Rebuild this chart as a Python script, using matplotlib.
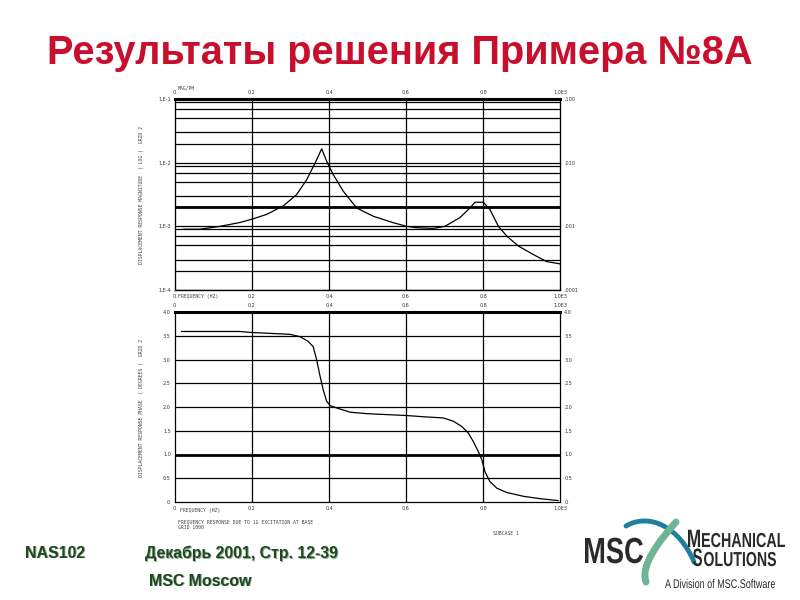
import numpy as np
import matplotlib.pyplot as plt
from matplotlib.font_manager import FontProperties
from matplotlib.patches import PathPatch
from matplotlib.path import Path
from matplotlib.textpath import TextPath
from matplotlib.transforms import Affine2D

# frequency response (x in units of 1.0E+3 Hz)
freq_mag = [0.022, 0.063, 0.091, 0.117, 0.169, 0.199, 0.238, 0.281, 0.316, 0.342,
            0.364, 0.381, 0.394, 0.411, 0.437, 0.472, 0.515, 0.567, 0.602, 0.628,
            0.671, 0.701, 0.740, 0.766, 0.779, 0.801, 0.818, 0.840, 0.862, 0.892,
            0.931, 0.965, 1.0]
magnitude = [9.0e-4, 9.0e-4, 9.5e-4, 1.0e-3, 1.15e-3, 1.29e-3, 1.54e-3, 2.09e-3, 3.16e-3, 5.4e-3,
             9.9e-3, 1.65e-2, 1.05e-2, 6.5e-3, 3.56e-3, 1.94e-3, 1.44e-3, 1.14e-3, 1.0e-3, 9.5e-4,
             9.3e-4, 1.0e-3, 1.37e-3, 1.94e-3, 2.39e-3, 2.39e-3, 1.84e-3, 1.0e-3, 7.0e-4, 4.9e-4,
             3.6e-4, 2.8e-4, 2.57e-4]

freq_ph = [0.017, 0.169, 0.195, 0.247, 0.299, 0.325, 0.346, 0.359, 0.368, 0.377,
           0.385, 0.394, 0.403, 0.420, 0.455, 0.498, 0.550, 0.602, 0.654, 0.697,
           0.723, 0.745, 0.762, 0.775, 0.788, 0.797, 0.805, 0.818, 0.836, 0.862,
           0.905, 0.948, 0.995]
phase = [3.59, 3.59, 3.57, 3.55, 3.53, 3.48, 3.38, 3.27, 2.99, 2.64,
         2.36, 2.12, 2.03, 1.98, 1.89, 1.86, 1.84, 1.82, 1.79, 1.77,
         1.70, 1.59, 1.45, 1.27, 1.06, 0.89, 0.64, 0.43, 0.29, 0.20,
         0.12, 0.07, 0.03]

x_ticks = [0.0, 0.2, 0.4, 0.6, 0.8, 1.0]
x_labels = ['0.', '0.2', '0.4', '0.6', '0.8', '1.0E3']
mag_decades = [1e-4, 1e-3, 1e-2, 1e-1]
mag_left = ['1.E-4', '1.E-3', '1.E-2', '1.E-1']
mag_right = ['.0001', '.001', '.010', '.100']
ph_ticks = [0.0, 0.5, 1.0, 1.5, 2.0, 2.5, 3.0, 3.5, 4.0]
ph_labels = ['0.', '0.5', '1.0', '1.5', '2.0', '2.5', '3.0', '3.5', '4.0']

fig = plt.figure(figsize=(8, 6), dpi=100)
fig.patch.set_facecolor('white')

fig.text(0.5, 1-64/600, 'Результаты решения Примера №8А', ha='center', va='baseline',
         fontsize=28.6, fontweight='bold', color='#c8102e', family='Liberation Sans')

tiny = dict(fontsize=3.5, color='#444444', family='DejaVu Sans Mono')

# ---- magnitude plot
ax1 = fig.add_axes([175/800, 1-290/600, 385/800, 191/600])
ax1.semilogy(freq_mag, magnitude, color='black', lw=0.9)
ax1.set_xlim(0, 1)
ax1.set_ylim(1e-4, 1e-1)
for d in mag_decades[:-1]:
    for m in (2, 3, 5, 7, 9):
        ax1.axhline(d*m, color='black', lw=0.9)
    ax1.axhline(d, color='black', lw=0.9)
ax1.axhline(2e-3, color='black', lw=2)
for xv in x_ticks[1:-1]:
    ax1.axvline(xv, color='black', lw=0.9)
ax1.set_xticks(x_ticks)
ax1.set_xticklabels(x_labels)
ax1.set_yticks(mag_decades)
ax1.set_yticklabels(mag_left)
ax1.yaxis.set_minor_locator(plt.NullLocator())
ax1.tick_params(labelsize=3.5, length=0, pad=3, colors='#333333',
                labeltop=True, labelright=True)
ax1.spines['top'].set_linewidth(2.2)
for s in ('left', 'right', 'bottom'):
    ax1.spines[s].set_linewidth(0.9)
r1 = ax1.twinx()
r1.set_yscale('log')
r1.set_ylim(1e-4, 1e-1)
r1.set_yticks(mag_decades)
r1.set_yticklabels(mag_right)
r1.yaxis.set_minor_locator(plt.NullLocator())
r1.tick_params(labelsize=3.5, length=0, pad=3, colors='#333333')

# ---- phase plot
ax2 = fig.add_axes([175/800, 1-502/600, 385/800, 190/600])
ax2.plot(freq_ph, phase, color='black', lw=0.9)
ax2.set_xlim(0, 1)
ax2.set_ylim(0, 4.0)
for yv in ph_ticks[1:-1]:
    ax2.axhline(yv, color='black', lw=2 if yv == 1.0 else 0.9)
for xv in x_ticks[1:-1]:
    ax2.axvline(xv, color='black', lw=0.9)
ax2.set_xticks(x_ticks)
ax2.set_xticklabels(x_labels)
ax2.set_yticks(ph_ticks)
ax2.set_yticklabels(ph_labels)
ax2.tick_params(labelsize=3.5, length=0, pad=3, colors='#333333',
                labeltop=True, labelright=True)
ax2.spines['top'].set_linewidth(2.2)
for s in ('left', 'right', 'bottom'):
    ax2.spines[s].set_linewidth(0.9)

# small captions from the plotter output
fig.text(178/800, 1-89/600, 'MAG/PH', **tiny)
fig.text(178/800, 1-298/600, 'FREQUENCY (HZ)', **tiny)
fig.text(180/800, 1-512/600, 'FREQUENCY (HZ)', **tiny)
fig.text(178/800, 1-523/600, 'FREQUENCY RESPONSE DUE TO 1G EXCITATION AT BASE', **tiny)
fig.text(178/800, 1-529/600, 'GRID 1000', **tiny)
fig.text(493/800, 1-535/600, 'SUBCASE 1', **tiny)
fig.text(142/800, 1-195/600, 'DISPLACEMENT RESPONSE MAGNITUDE  ( LOG )  GRID 2', rotation=90,
         ha='center', va='center', **tiny)
fig.text(142/800, 1-408/600, 'DISPLACEMENT RESPONSE PHASE  ( DEGREES )  GRID 2', rotation=90,
         ha='center', va='center', **tiny)

# ---- footer
green = '#1c4a1c'
for txt, x, y in (('NAS102', 25, 553), ('Декабрь 2001, Стр. 12-39', 145, 553),
                  ('MSC Moscow', 149, 581)):
    fig.text((x+1)/800, 1-(y+1)/600, txt, ha='left', va='center', fontsize=11.4,
             fontweight='bold', color='#9aa89a', family='Liberation Sans')
    fig.text(x/800, 1-y/600, txt, ha='left', va='center', fontsize=11.4,
             fontweight='bold', color=green, family='Liberation Sans')

# ---- logo, drawn in pixel coordinates
lg = fig.add_axes([0, 0, 1, 1], zorder=-1)
lg.set_xlim(0, 800)
lg.set_ylim(600, 0)
lg.axis('off')


def fit_text(s, x0, x1, base, cap, weight='bold', color='#2a2a2a'):
    fp = FontProperties(family='Liberation Sans', weight=weight)
    tp = TextPath((0, 0), s, size=100, prop=fp)
    ext = tp.get_extents()
    k = cap / 71.6
    sx = (x1 - x0) / (ext.x1 - ext.x0)
    tr = Affine2D().translate(-ext.x0, 0).scale(sx, -k).translate(x0, base)
    lg.add_patch(PathPatch(tr.transform_path(tp), fc=color, ec='none'))


lg.add_patch(PathPatch(Path([(626, 526), (650, 512), (680, 528), (694, 562)],
                            [Path.MOVETO, Path.CURVE4, Path.CURVE4, Path.CURVE4]),
                       fc='none', ec='#1f7fa0', lw=3.5, capstyle='round'))
lg.add_patch(PathPatch(Path([(676, 522), (660, 540), (640, 565), (646, 582)],
                            [Path.MOVETO, Path.CURVE4, Path.CURVE4, Path.CURVE4]),
                       fc='none', ec='#6db596', lw=5, capstyle='round'))
fit_text('MSC', 585, 643, 563, 26)
fit_text('M', 688, 700, 547, 18)
fit_text('ECHANICAL', 702, 785, 547, 14.5)
fit_text('S', 693, 702, 566, 18)
fit_text('OLUTIONS', 704, 776, 566, 14.5)
fit_text('A Division of MSC.Software', 665, 775, 588, 9, weight='normal')

plt.savefig('out.png', dpi=100)
